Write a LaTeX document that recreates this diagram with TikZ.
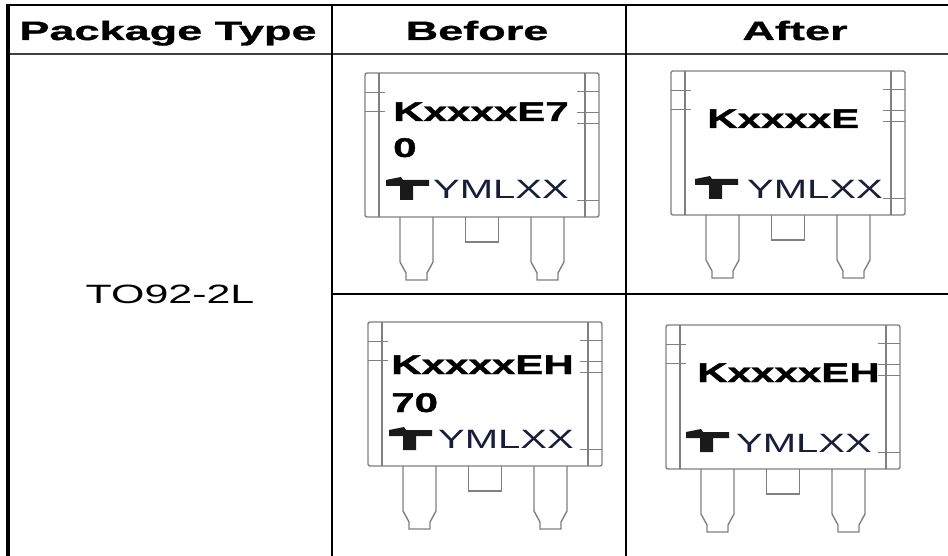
\documentclass[tikz,border=0pt]{standalone}
\usepackage{fontspec}
\setmainfont{Liberation Sans}
\newfontfamily\hdrfont[FakeStretch=1.70,FakeBold=1.2]{Liberation Sans Bold}
\newfontfamily\typefont[FakeStretch=1.62]{Liberation Sans}
\newfontfamily\partfont[FakeStretch=1.56,FakeBold=1.5]{Liberation Sans Bold}
\newfontfamily\codefont[FakeStretch=1.51]{Liberation Sans}
\definecolor{chipgray}{RGB}{128,128,128}
\definecolor{codeblue}{RGB}{22,30,58}
\definecolor{logoblack}{RGB}{26,26,26}
\tikzset{
  hdr/.style={font=\hdrfont\fontsize{26.5}{30}\selectfont, anchor=base, inner sep=0pt},
  pkgtype/.style={font=\typefont\fontsize{26.5}{30}\selectfont, anchor=base, inner sep=0pt},
  partno/.style={font=\partfont\fontsize{27}{30}\selectfont, anchor=base west, inner sep=0pt},
  datecode/.style={font=\codefont\fontsize{26.5}{30}\selectfont, text=codeblue, anchor=base west, inner sep=0pt},
  rule/.style={line width=2.5pt},
  chipline/.style={draw=chipgray, line width=1.4pt},
  pics/tochip/.style={code={
    \draw[chipline, rounded corners=2pt] (0,0) rectangle (234,144);
    \draw[chipline] (14,0) -- (14,144) (220,0) -- (220,144);
    \draw[chipline, line width=0.8pt] (0,19) -- (20,19) (0,38) -- (20,38);
    \draw[chipline, line width=0.8pt] (212,18) -- (234,18) (212,39) -- (234,39)
      (212,50) -- (234,50) (212,127) -- (234,127);
    \foreach \a in {35,166}
      \draw[chipline] (\a,144) -- (\a,189) -- (\a+6,200) -- (\a+6,207) -- (\a+27,207)
        -- (\a+27,200) -- (\a+33,189) -- (\a+33,144);
    \draw[chipline] (100.5,144) -- (100.5,169) -- (133.5,169) -- (133.5,144);
  }},
  pics/tlogo/.style={code={
    \fill[logoblack] (0,3) -- (15,0) -- (17,3) -- (43,3) -- (43,9) -- (27,9)
      -- (27,23) -- (14,23) -- (14,9) -- (0,9) -- cycle;
  }},
}
\begin{document}
\begin{tikzpicture}[x=1pt,y=-1pt]
  \useasboundingbox (0,0) rectangle (948,556);
  % table rules
  \draw[rule] (6,5) -- (948,5);
  \draw[rule, line width=2pt, draw=black!75] (8,54) -- (948,54);
  \draw[rule, line width=3.5pt] (8,4) -- (8,556);
  \draw[rule] (332,5) -- (332,556);
  \draw[rule] (626,5) -- (626,556);
  \draw[rule, line width=2pt] (332,294) -- (948,294);
  % header
  \node[hdr] (hpkg) at (168,40) {Package Type};
  \node[hdr] (hbefore) at (477,40) {Before};
  \node[hdr] (hafter) at (795,40) {After};
  \node[pkgtype] (pkg) at (170,303) {TO92-2L};
  % before, top
  \pic (chipBT) at (365,73) {tochip};
  \node[partno] (partBT) at (393,121) {KxxxxE7};
  \node[partno] (partBTb) at (393,157) {0};
  \pic (logoBT) at (386,177) {tlogo};
  \node[datecode] (codeBT) at (433,199) {YMLXX};
  % after, top
  \pic (chipAT) at (671,71) {tochip};
  \node[partno] (partAT) at (707,128) {KxxxxE};
  \pic (logoAT) at (695,176) {tlogo};
  \node[datecode] (codeAT) at (747,199) {YMLXX};
  % before, bottom
  \pic (chipBB) at (368,322) {tochip};
  \node[partno] (partBB) at (391,374) {KxxxxEH};
  \node[partno] (partBBb) at (391,412) {70};
  \pic (logoBB) at (389,427) {tlogo};
  \node[datecode] (codeBB) at (438,448) {YMLXX};
  % after, bottom
  \pic (chipAB) at (666,325) {tochip};
  \node[partno] (partAB) at (697,382) {KxxxxEH};
  \pic (logoAB) at (686,429) {tlogo};
  \node[datecode] (codeAB) at (736,452) {YMLXX};
\end{tikzpicture}
\end{document}
